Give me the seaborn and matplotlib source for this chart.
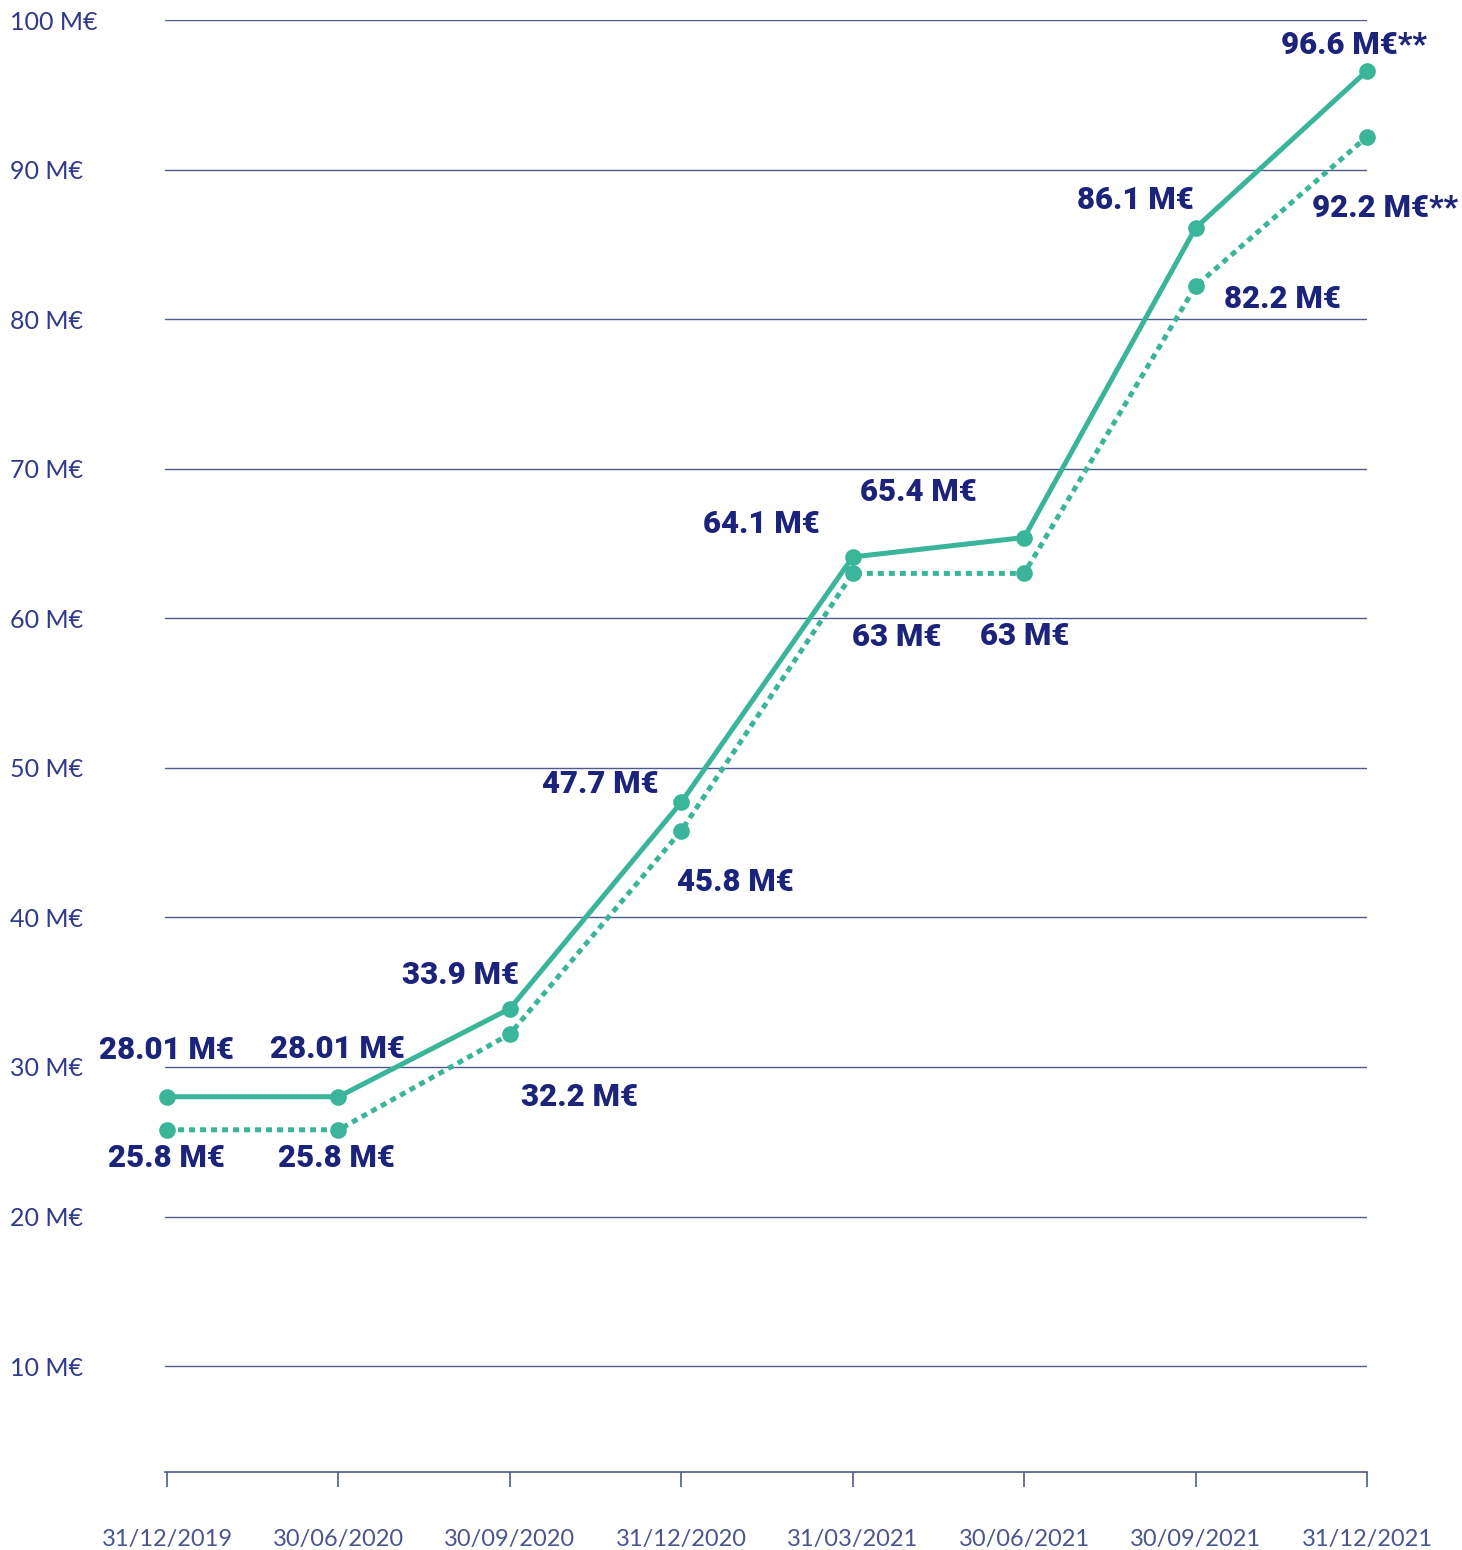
import matplotlib
matplotlib.use("Agg")
import matplotlib.pyplot as plt
import seaborn as sns
import pandas as pd
from matplotlib import font_manager

# ---- data ----
dates = ["31/12/2019", "30/06/2020", "30/09/2020", "31/12/2020",
         "31/03/2021", "30/06/2021", "30/09/2021", "31/12/2021"]
solid_values = [28.01, 28.01, 33.9, 47.7, 64.1, 65.4, 86.1, 96.6]
dotted_values = [25.8, 25.8, 32.2, 45.8, 63, 63, 82.2, 92.2]
solid_labels = ["28.01 M€", "28.01 M€", "33.9 M€", "47.7 M€",
                "64.1 M€", "65.4 M€", "86.1 M€", "96.6 M€**"]
dotted_labels = ["25.8 M€", "25.8 M€", "32.2 M€", "45.8 M€",
                 "63 M€", "63 M€", "82.2 M€", "92.2 M€**"]
y_ticks = [10, 20, 30, 40, 50, 60, 70, 80, 90, 100]
y_tick_labels = [f"{v} M€" for v in y_ticks]

# ---- style ----
sns.set_theme(style="white")
plt.rcParams["font.family"] = ["Lato", "DejaVu Sans"]

TEAL = "#3AB59A"
NAVY = "#1B237A"
GRID = "#4E5A8E"
TICK = "#4A5590"

# pick a heavy font for the value labels
heavy_family, heavy_weight = "Lato", "bold"
names = {(f.name, f.weight) for f in font_manager.fontManager.ttflist}
for fam in ["Roboto", "Lato", "Inter", "Open Sans", "Noto Sans"]:
    ws = [w for (n, w) in names if n == fam]
    if any(w in (900, "black", "heavy") for w in ws):
        heavy_family, heavy_weight = fam, 900
        break

df = pd.DataFrame({
    "date": dates * 2,
    "value": solid_values + dotted_values,
    "series": ["solid"] * len(dates) + ["dotted"] * len(dates),
})

fig = plt.figure(figsize=(14.62, 15.5), dpi=100)
ax = fig.add_axes([165 / 1462, 1 - 1472 / 1550, (1367 - 165) / 1462, (1472 - 20) / 1550])

sns.lineplot(data=df, x="date", y="value", hue="series", style="series",
             palette={"solid": TEAL, "dotted": TEAL},
             dashes={"solid": "", "dotted": (1.2, 1.0)},
             markers={"solid": "o", "dotted": "o"},
             markersize=12, markeredgewidth=0, linewidth=3.6,
             legend=False, ax=ax, sort=False, zorder=3)
for ln in ax.get_lines():
    ln.set_dash_capstyle("butt")
    ln.set_clip_on(False)

ax.set_xlim(-0.012, 7.0)
ax.set_ylim(2.92, 100)
ax.set_yticks(y_ticks)
ax.set_yticklabels(y_tick_labels)
ax.set_xticks(range(len(dates)))
ax.set_xticklabels(dates)
ax.set_xlabel("")
ax.set_ylabel("")

ax.grid(axis="y", color=GRID, linewidth=1.0, zorder=0)
ax.grid(axis="x", visible=False)
for s in ["top", "right", "left"]:
    ax.spines[s].set_visible(False)
ax.spines["bottom"].set_color(GRID)
ax.spines["bottom"].set_linewidth(1.2)

ax.tick_params(axis="y", left=False, length=0, pad=111.6, labelsize=18, labelcolor="#2F3A8A")
for lab in ax.get_yticklabels():
    lab.set_horizontalalignment("left")
ax.tick_params(axis="x", bottom=True, length=11, width=1.2, color=GRID, pad=30,
               labelsize=17, labelcolor=TICK, direction="out")

# label offsets in pixels (dx, dy)
solid_off = [(-1, 47), (-1, 48), (-49, 34), (-81, 18), (-91, 33), (-106, 46), (-60, 28), (-13, 26)]
dotted_off = [(-1, -28), (-2, -28), (70, -63), (54, -51), (44, -64), (1, -63), (87, -13), (18, -71)]

for i, (v, lab) in enumerate(zip(solid_values, solid_labels)):
    ax.annotate(lab, (i, v), xytext=solid_off[i], textcoords="offset pixels",
                ha="center", va="center", fontsize=22.5, fontweight=heavy_weight,
                family=[heavy_family, "DejaVu Sans"], color=NAVY, annotation_clip=False)
for i, (v, lab) in enumerate(zip(dotted_values, dotted_labels)):
    ax.annotate(lab, (i, v), xytext=dotted_off[i], textcoords="offset pixels",
                ha="center", va="center", fontsize=22.5, fontweight=heavy_weight,
                family=[heavy_family, "DejaVu Sans"], color=NAVY, annotation_clip=False)

fig.savefig("out.png", dpi=100, facecolor="white")
